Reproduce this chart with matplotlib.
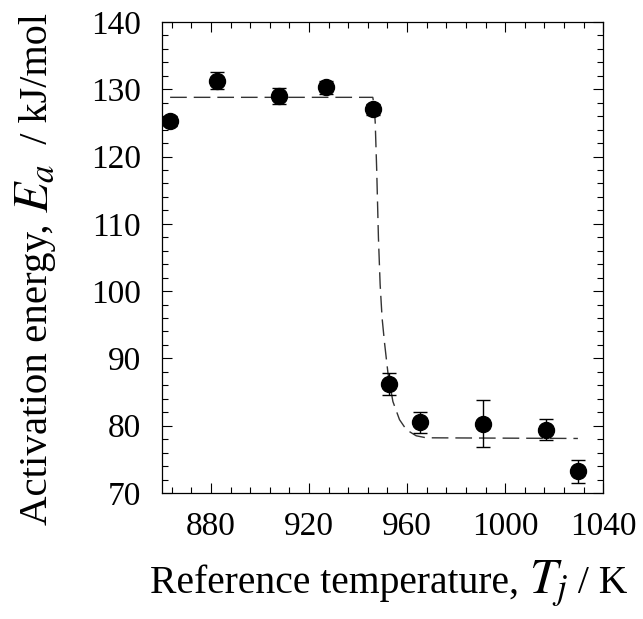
import matplotlib
matplotlib.use('Agg')
import matplotlib.pyplot as plt
from matplotlib.ticker import MultipleLocator

# data points
T = [863.3, 882.3, 907.9, 926.9, 946.2, 952.6, 965.4, 991.0, 1016.5, 1029.7]
Ea = [125.3, 131.3, 129.0, 130.3, 127.0, 86.2, 80.5, 80.3, 79.4, 73.2]
err = [0.8, 1.2, 1.2, 1.0, 0.8, 1.6, 1.6, 3.5, 1.6, 1.7]

# fitted curve (dashed)
T_fit = [863.3, 946.0, 946.6, 947.0, 947.6, 948.3, 949.0, 949.8, 950.8, 952.2,
         954.2, 956.9, 959.7, 963.7, 967.8, 1029.7]
Ea_fit = [128.8, 128.8, 127.5, 125.0, 118.0, 108.0, 101.0, 96.0, 92.3, 87.8,
          83.6, 80.9, 79.4, 78.5, 78.2, 78.1]

plt.rcParams['font.family'] = ['Liberation Serif', 'DejaVu Serif']
plt.rcParams['mathtext.fontset'] = 'stix'

W, H = 643, 619
fig = plt.figure(figsize=(W / 100, H / 100), dpi=100)
ax = fig.add_axes([0.252, 0.2036, 0.686, 0.7609])

line, = ax.plot(T_fit, Ea_fit, color='#333333', lw=1.0)
line.set_dashes((12, 5))
ax.errorbar(T, Ea, yerr=err, fmt='o', color='black', ms=11.5,
            ecolor='black', elinewidth=1.0, capsize=5, capthick=1.0, zorder=3)

ax.set_xlim(860, 1040)
ax.set_ylim(70, 140)
ax.xaxis.set_major_locator(MultipleLocator(40))
ax.xaxis.set_minor_locator(MultipleLocator(8))
ax.yaxis.set_major_locator(MultipleLocator(10))
ax.yaxis.set_minor_locator(MultipleLocator(2))
ax.tick_params(which='both', direction='in', top=True, right=True,
               labelsize=24, width=0.8)
ax.tick_params(which='major', length=7)
ax.tick_params(axis='x', which='major', pad=13)
ax.tick_params(axis='y', which='major', pad=15)
ax.tick_params(which='minor', length=4)
for s in ax.spines.values():
    s.set_linewidth(0.9)

# axis labels built from pieces so the math symbols can be larger
r = fig.canvas.get_renderer()
MATH = 36

# x label: left at ~150 px, baseline at ~593 px from top
x0, yb = 150 / W, 1 - 593 / H
for s, fs in [('Reference temperature, ', 28.5), (r'$T_j$', MATH), (' / K', 28.5)]:
    t = fig.text(x0, yb, s, fontsize=fs, ha='left', va='baseline')
    bb = t.get_window_extent(r)
    x0 = bb.x1 / W

# y label: rotated, baseline at ~47 px from left, starts at ~525 px from top
xb, y0 = 47 / W, 1 - 525 / H
for s, fs in [('Activation energy, ', 29.5), (r'$E_a$', MATH), ('  / kJ/mol', 29)]:
    t = fig.text(xb, y0, s, fontsize=fs, rotation=90, rotation_mode='anchor',
                 ha='left', va='baseline')
    bb = t.get_window_extent(r)
    y0 = bb.y1 / H

fig.savefig('out.png', dpi=100)
